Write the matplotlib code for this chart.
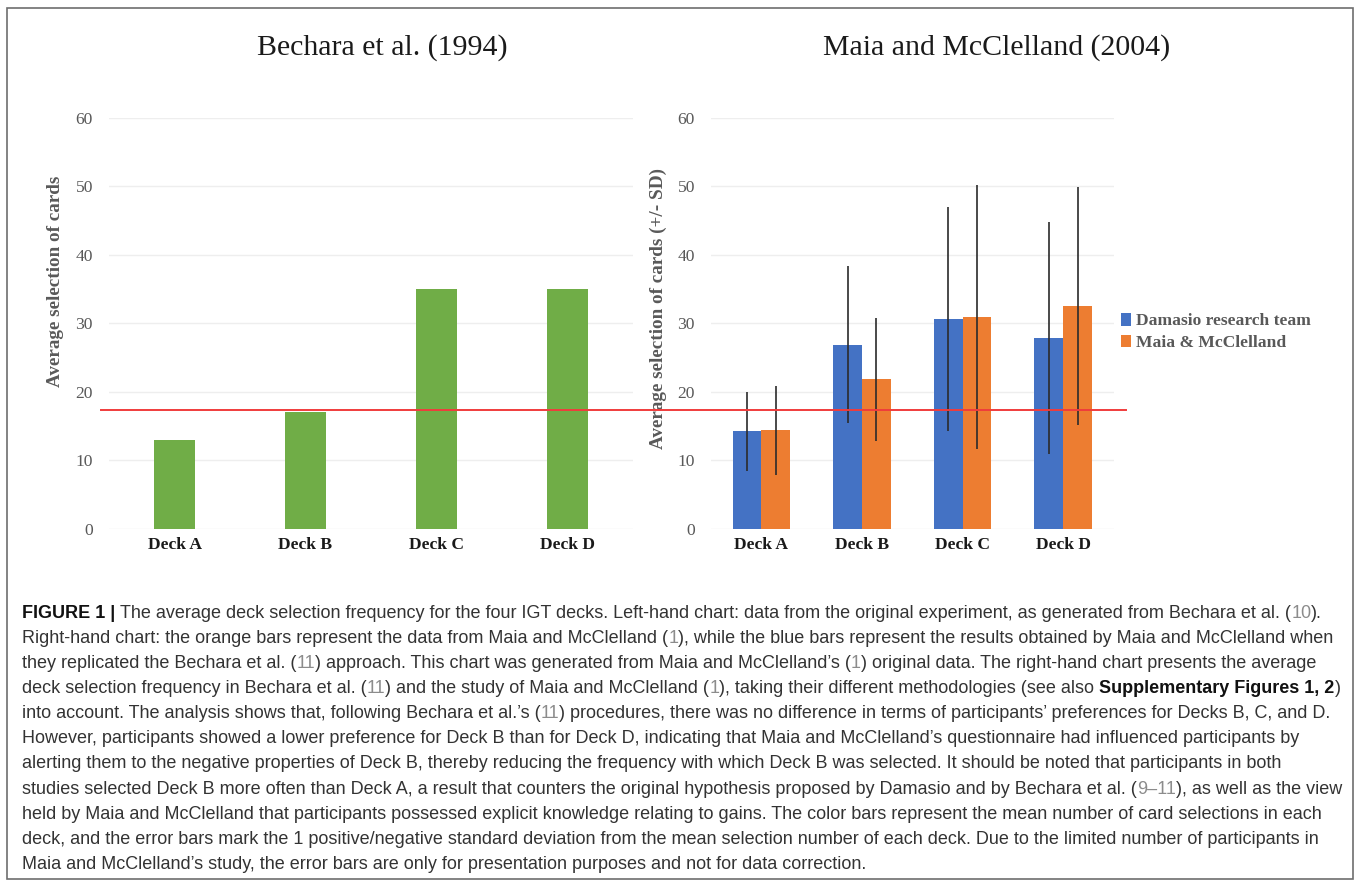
import matplotlib
matplotlib.use('Agg')
import matplotlib.pyplot as plt
import numpy as np
from matplotlib.transforms import blended_transform_factory
from matplotlib.lines import Line2D
from matplotlib.patches import Rectangle

# data
decks = ['Deck A', 'Deck B', 'Deck C', 'Deck D']
bechara = [13, 17, 35, 35]

damasio_mean = [14.3, 26.9, 30.6, 27.9]
damasio_lo = [8.5, 15.4, 14.3, 11.0]
damasio_hi = [20.0, 38.4, 46.9, 44.7]

maia_mean = [14.4, 21.9, 30.9, 32.5]
maia_lo = [7.9, 12.9, 11.6, 15.2]
maia_hi = [20.9, 30.7, 50.2, 49.8]

ref_line = 17.35
yticks = [0, 10, 20, 30, 40, 50, 60]

# caption lines: (text, style)  n=normal, b=bold, r=reference number
caption = [
    [('FIGURE 1 | ', 'b'), ('The average deck selection frequency for the four IGT decks. Left-hand chart: data from the original experiment, as generated from Bechara et al. (', 'n'), ('10', 'r'), (').', 'n')],
    [('Right-hand chart: the orange bars represent the data from Maia and McClelland (', 'n'), ('1', 'r'), ('), while the blue bars represent the results obtained by Maia and McClelland when', 'n')],
    [('they replicated the Bechara et al. (', 'n'), ('11', 'r'), (') approach. This chart was generated from Maia and McClelland\u2019s (', 'n'), ('1', 'r'), (') original data. The right-hand chart presents the average', 'n')],
    [('deck selection frequency in Bechara et al. (', 'n'), ('11', 'r'), (') and the study of Maia and McClelland (', 'n'), ('1', 'r'), ('), taking their different methodologies (see also ', 'n'), ('Supplementary Figures 1, 2', 'b'), (')', 'n')],
    [('into account. The analysis shows that, following Bechara et al.\u2019s (', 'n'), ('11', 'r'), (') procedures, there was no difference in terms of participants\u2019 preferences for Decks B, C, and D.', 'n')],
    [('However, participants showed a lower preference for Deck B than for Deck D, indicating that Maia and McClelland\u2019s questionnaire had influenced participants by', 'n')],
    [('alerting them to the negative properties of Deck B, thereby reducing the frequency with which Deck B was selected. It should be noted that participants in both', 'n')],
    [('studies selected Deck B more often than Deck A, a result that counters the original hypothesis proposed by Damasio and by Bechara et al. (', 'n'), ('9\u201311', 'r'), ('), as well as the view', 'n')],
    [('held by Maia and McClelland that participants possessed explicit knowledge relating to gains. The color bars represent the mean number of card selections in each', 'n')],
    [('deck, and the error bars mark the 1 positive/negative standard deviation from the mean selection number of each deck. Due to the limited number of participants in', 'n')],
    [('Maia and McClelland\u2019s study, the error bars are only for presentation purposes and not for data correction.', 'n')],
]

W, H = 1357, 881
fig = plt.figure(figsize=(W / 100, H / 100), dpi=100)

def fx(px):
    return px / W

def fy(py):
    return 1 - py / H

serif = 'Liberation Serif'
gray = '#595959'
green = '#70ad47'
blue = '#4472c4'
orange = '#ed7d31'

def style_axis(ax, ylabel, lab_x, lab_y):
    ax.set_ylim(0, 60)
    ax.set_xlim(-0.5, 3.5)
    ax.set_yticks(yticks)
    ax.set_xticks(range(len(decks)))
    ax.set_xticklabels(decks, family=serif, fontweight='bold', fontsize=12.6, color='#1a1a1a')
    for lab in ax.get_yticklabels():
        lab.set_family(serif)
        lab.set_fontsize(12.6)
        lab.set_color(gray)
    ax.tick_params(axis='y', length=0, pad=11.5)
    ax.tick_params(axis='x', length=0, pad=6)
    for s in ax.spines.values():
        s.set_visible(False)
    ax.grid(axis='y', color='#eeeeee', lw=1)
    ax.set_axisbelow(True)
    ax.set_ylabel(ylabel, family=serif, fontweight='bold', fontsize=13.8, color=gray)
    ax.yaxis.set_label_coords(lab_x, lab_y)

# left chart
ax1 = fig.add_axes([fx(109), fy(529), fx(633) - fx(109), (529 - 117.5) / H])
x = np.arange(len(decks))
ax1.bar(x, bechara, width=0.313, color=green)
style_axis(ax1, 'Average selection of cards', -0.086, 0.603)

# right chart
ax2 = fig.add_axes([fx(711), fy(529), fx(1113.6) - fx(711), (529 - 117.5) / H])
bw = 0.286
xb = x - bw / 2
xo = x + bw / 2
ax2.bar(xb, damasio_mean, width=bw, color=blue, label='Damasio research team')
ax2.bar(xo, maia_mean, width=bw, color=orange, label='Maia & McClelland')
dm = np.array(damasio_mean)
mm = np.array(maia_mean)
ax2.errorbar(xb, dm, yerr=[dm - np.array(damasio_lo), np.array(damasio_hi) - dm],
             fmt='none', ecolor='#2b2b2b', elinewidth=1.2, capsize=0)
ax2.errorbar(xo, mm, yerr=[mm - np.array(maia_lo), np.array(maia_hi) - mm],
             fmt='none', ecolor='#2b2b2b', elinewidth=1.2, capsize=0)
style_axis(ax2, 'Average selection of cards (+/- SD)', -0.109, 0.535)
leg = ax2.legend(loc='center left', bbox_to_anchor=((1121 - 711) / 402.6, (529 - 332) / 411.5),
                 frameon=False, handlelength=0.55, handleheight=0.75, handletextpad=0.3,
                 labelspacing=0.3, borderpad=0, borderaxespad=0,
                 prop={'family': serif, 'weight': 'bold', 'size': 12.6})
for t in leg.get_texts():
    t.set_color(gray)

# red reference line across both charts
tr = blended_transform_factory(fig.transFigure, ax1.transData)
fig.add_artist(Line2D([fx(101), fx(1126)], [ref_line, ref_line], transform=tr,
                      color='#f03c3c', lw=1.4))

# titles
fig.text(fx(382), fy(48), 'Bechara et al. (1994)', family=serif, fontsize=21.5,
         color='#1a1a1a', ha='center', va='center')
fig.text(fx(996.6), fy(48), 'Maia and McClelland (2004)', family=serif, fontsize=21.5,
         color='#1a1a1a', ha='center', va='center')

# caption
renderer = fig.canvas.get_renderer()
sans = 'Liberation Sans'
colors = {'n': '#333333', 'b': '#111111', 'r': '#8c8c8c'}

def seg_width(s, st, size):
    w = 'bold' if st == 'b' else 'normal'
    t1 = fig.text(0, 0, '|' + s + '|', family=sans, fontsize=size, fontweight=w)
    t2 = fig.text(0, 0, '||', family=sans, fontsize=size, fontweight=w)
    d = t1.get_window_extent(renderer).width - t2.get_window_extent(renderer).width
    t1.remove()
    t2.remove()
    return d

base = 10
widest = max(sum(seg_width(s, st, base) for s, st in line) for line in caption)
size = base * (1341 - 22) / widest

y0, dy = 611, 25.15
for i, line in enumerate(caption):
    xp = 22
    for s, st in line:
        fig.text(fx(xp), fy(y0 + i * dy), s, family=sans, fontsize=size,
                 fontweight='bold' if st == 'b' else 'normal', color=colors[st],
                 ha='left', va='center_baseline')
        xp += seg_width(s, st, size)

# frame
fig.add_artist(Rectangle((fx(7), fy(879)), fx(1353) - fx(7), fy(8) - fy(879),
                         transform=fig.transFigure, fill=False, ec='#6e6e6e', lw=1.2))

fig.savefig('out.png', dpi=100)
